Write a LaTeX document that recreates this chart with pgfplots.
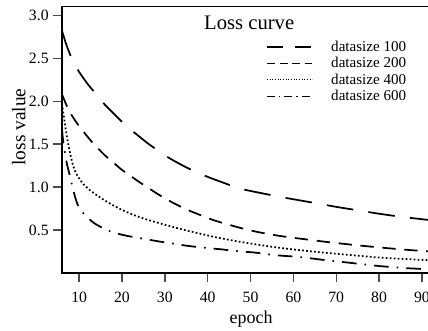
\documentclass[border=0pt]{standalone}
\usepackage{fontspec}
\setmainfont{Liberation Serif}
\usepackage{pgfplots}
\pgfplotsset{compat=1.18}

\begin{document}
\begin{tikzpicture}
\begin{axis}[
  scale only axis,
  width=276.4pt, height=199.7pt,
  xmin=6, xmax=92, ymin=0, ymax=3.1,
  xtick={10,20,30,40,50,60,70,80,90},
  ytick={0.5,1.0,1.5,2.0,2.5,3.0},
  yticklabel style={/pgf/number format/.cd, fixed, fixed zerofill, precision=1},
  /pgf/number format/assume math mode=true,
  tick align=outside, tick pos=left,
  major tick length=6.5pt,
  axis line style={line width=0.9pt},
  xtick style={line width=1pt, black!70},
  ytick style={line width=1pt, black!70},
  ticklabel style={font=\fontsize{11.8}{13}\selectfont},
  xticklabel style={yshift=-4pt},
  xlabel={epoch}, ylabel={loss value},
  every axis x label/.style={at={(axis description cs:0.513,-0.19)}, anchor=base, font=\fontsize{13.5}{15}\selectfont},
  every axis y label/.style={at={(axis description cs:-0.117,0.548)}, rotate=90, anchor=center, font=\fontsize{14.5}{16}\selectfont},
  title={Loss curve},
  title style={at={(axis description cs:0.508,1)}, anchor=north, yshift=-9.5pt, font=\fontsize{15.5}{17}\selectfont},
  legend style={draw=none, fill=none, inner sep=0pt, at={(axis description cs:0.554,0.883)}, anchor=north west, font=\fontsize{11.3}{13}\selectfont, row sep=-1pt},
  legend cell align=left,
  legend image code/.code={\draw[#1] (0pt,0pt) -- (34pt,0pt); \path (45.7pt,0pt);},
]
\addplot[line width=1.3pt, dash pattern=on 20pt off 11.5pt, smooth, tension=0.4, forget plot] coordinates {
(6,2.82) (7,2.66) (8,2.53) (9,2.43) (10,2.34) (12,2.20) (14,2.08) (16,1.96) (18,1.86) (20,1.76) (22,1.67) (24,1.59) (26,1.51) (28,1.44) (30,1.37) (32,1.31) (35,1.23) (38,1.16) (41,1.10) (44,1.045) (47,0.99) (50,0.955) (54,0.915) (57,0.885) (61,0.85) (65,0.815) (70,0.77) (75,0.73) (80,0.69) (85,0.655) (89,0.632) (92,0.615)
};
\addplot[line width=1.3pt, dash pattern=on 10pt off 6.5pt, smooth, tension=0.4, forget plot] coordinates {
(6,2.08) (7,1.96) (8,1.86) (9,1.78) (10,1.71) (11,1.645) (12,1.585) (13,1.525) (14,1.47) (15,1.42) (16,1.37) (18,1.285) (20,1.20) (22,1.13) (24,1.06) (26,0.995) (28,0.93) (30,0.87) (32,0.815) (34,0.765) (36,0.72) (38,0.68) (40,0.64) (42,0.605) (44,0.575) (46,0.547) (48,0.52) (50,0.496) (52,0.474) (54,0.455) (57,0.43) (60,0.41) (64,0.385) (68,0.36) (72,0.338) (76,0.317) (80,0.298) (84,0.28) (88,0.264) (92,0.25)
};
\addplot[line width=1.3pt, dash pattern=on 1.3pt off 1.7pt, smooth, tension=0.4, forget plot] coordinates {
(6,1.97) (6.5,1.80) (7,1.63) (7.5,1.49) (8,1.37) (8.6,1.25) (9.3,1.16) (10.2,1.085) (11.2,1.025) (12.5,0.965) (14,0.91) (15.5,0.86) (17.5,0.80) (20,0.735) (22.5,0.68) (25,0.635) (28,0.59) (31,0.548) (34,0.508) (38,0.46) (42,0.415) (46,0.377) (50,0.343) (55,0.305) (60,0.274) (65,0.247) (70,0.224) (75,0.202) (80,0.18) (86,0.163) (92,0.148)
};
\addplot[line width=1.3pt, dash pattern=on 11pt off 6pt on 1.2pt off 6pt, smooth, tension=0.4, forget plot] coordinates {
(6,1.68) (6.3,1.52) (6.7,1.40) (7.1,1.28) (7.5,1.20) (7.9,1.12) (8.3,1.03) (8.7,0.95) (9.2,0.86) (9.7,0.79) (10.3,0.74) (10.9,0.70) (11.6,0.66) (12.3,0.63) (13.5,0.58) (14.9,0.54) (16.7,0.495) (18.8,0.46) (21.4,0.43) (23.7,0.41) (26,0.39) (28.9,0.365) (31,0.35) (34,0.325) (36.3,0.31) (38.2,0.30) (41,0.285) (43.3,0.275) (45.7,0.26) (48,0.25) (50.6,0.24) (52.7,0.228) (55,0.212) (57.6,0.20) (60,0.192) (62,0.183) (65,0.165) (67,0.152) (70,0.135) (72,0.125) (74.4,0.112) (77,0.097) (79,0.086) (81.4,0.075) (84,0.065) (86.5,0.056) (89.5,0.048) (92,0.04)
};
\addlegendimage{line width=0.9pt, dash pattern=on 12pt off 9pt}
\addlegendentry{datasize 100}
\addlegendimage{line width=0.9pt, dash pattern=on 6pt off 3.5pt}
\addlegendentry{datasize 200}
\addlegendimage{line width=0.8pt, dash pattern=on 0.8pt off 1.2pt}
\addlegendentry{datasize 400}
\addlegendimage{line width=0.9pt, dash pattern=on 6pt off 3pt on 1pt off 3pt}
\addlegendentry{datasize 600}
\end{axis}
\pgfresetboundingbox
\path[use as bounding box] ([shift={(-46.5pt,-43.5pt)}]current axis.south west) rectangle ++(321pt,248.25pt);
\end{tikzpicture}
\end{document}
